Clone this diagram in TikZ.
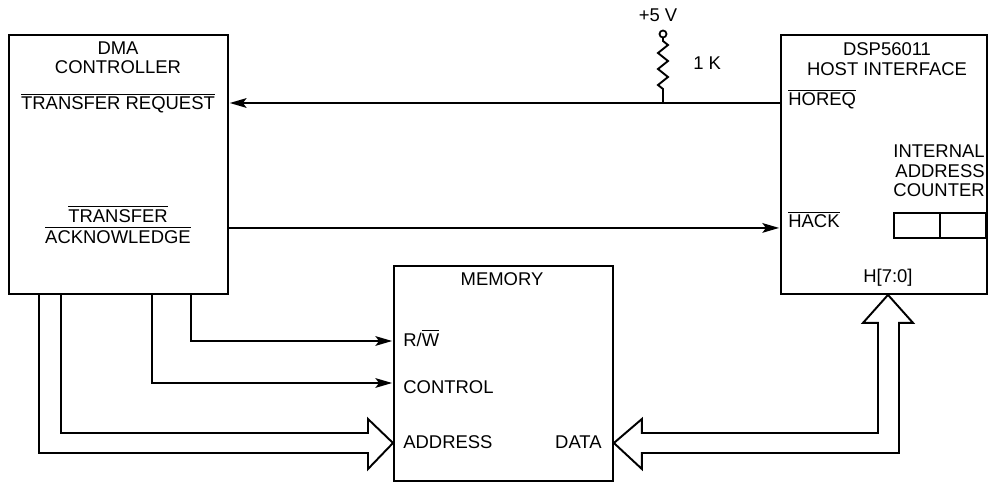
\documentclass[tikz,border=0pt]{standalone}
\usepackage{fontspec}
\setmainfont{Liberation Sans}
\usetikzlibrary{arrows.meta, positioning, calc}

\newcommand\ovl[1]{$\overline{\hbox{#1}}$}

\begin{document}
\begin{tikzpicture}[
    x=0.02cm, y=-0.02cm,
    block/.style={rectangle, draw, line width=1.1pt, inner sep=0pt, anchor=north west},
    lbl/.style={inner sep=0pt, font=\fontsize{10.5}{11}\selectfont, align=center},
    sig/.style={line width=1.1pt, -{Stealth[length=9.5pt,width=5.5pt,inset=2pt]}, shorten >=0.5pt},
    bus/.style={line width=1.1pt, line join=miter}
]
\useasboundingbox (0,0) rectangle (988,483);

% Blocks
\node (dma) [block, minimum width=4.38cm, minimum height=5.18cm] at (8,34) {};
\node (dsp) [block, minimum width=4.12cm, minimum height=5.18cm] at (780,34) {};
\node (mem) [block, minimum width=4.38cm, minimum height=4.3cm] at (393,265) {};
\node (cnt) [block, minimum width=1.84cm, minimum height=0.5cm] at (893,212) {};
\draw [line width=1.1pt] (cnt.north) -- (cnt.south);

% Labels
\node (dmaname) [lbl] at (118,58) {DMA\\CONTROLLER};
\node (treq) [lbl, anchor=base] at (118,110) {\ovl{TRANSFER REQUEST}};
\node (tack1) [lbl, anchor=base] at (118,222) {\ovl{TRANSFER}};
\node (tack2) [lbl, anchor=base] at (118,243) {\ovl{ACKNOWLEDGE}};
\node (dspname) [lbl] at (887,59) {DSP56011\\HOST INTERFACE};
\node (horeq) [lbl, anchor=base west] at (788,106) {\ovl{HOREQ}};
\node (hack) [lbl, anchor=base west] at (788,228) {\ovl{HACK}};
\node (cntname) [lbl, anchor=east, align=right] at (985,171) {INTERNAL\\ADDRESS\\COUNTER};
\node (hbus) [lbl, anchor=base] at (888,282) {H[7:0]};
\node (memname) [lbl, anchor=base] at (502,285) {MEMORY};
\node (rw) [lbl, anchor=base west] at (403,346) {R/\ovl{W}};
\node (ctl) [lbl, anchor=base west] at (403,393) {CONTROL};
\node (adrlbl) [lbl, anchor=base west] at (403,448) {ADDRESS};
\node (datlbl) [lbl, anchor=base east] at (602,448) {DATA};
\node (vlbl) [lbl, anchor=base] at (658,22) {+5 V};
\node (rlbl) [lbl, anchor=base west] at (693,70) {1 K};

% Pull-up
\coordinate (vcc) at (663,34);
\coordinate (tap) at (663,103);
\draw [line width=1pt] (vcc) circle (2pt);
\draw [line width=1.1pt, line join=miter] ($(vcc)+(0,3.5)$) -- (663,41) -- (668,45) -- (658,53) -- (668,61)
    -- (658,69) -- (668,77) -- (658,85) -- (663,89) -- (tap);

% Connections
\draw [sig] (tap -| dsp.west) -- (tap -| dma.east);
\draw [sig] ($(dma.east)+(0,63.5)$) coordinate (hk) -- (hk -| dsp.west);
\draw [sig] ($(dma.south west)+(183,0)$) |- ($(mem.north west)+(0,76)$);
\draw [sig] ($(dma.south west)+(144,0)$) |- ($(mem.north west)+(0,118)$);

% Buses
\coordinate (adr) at ($(mem.north west)+(0,178)$);
\coordinate (dat) at (mem.east |- adr);
\coordinate (hb) at ($(dsp.south west)+(108,0)$);
\draw [bus] ($(dma.south west)+(31,0)$) |- ($(adr)+(-25,10)$) -- ($(adr)+(-25,26)$) -- (adr)
    -- ($(adr)+(-25,-24)$) -- ($(adr)+(-25,-10)$) -| ($(dma.south west)+(53,0)$);
\draw [bus] ($(dat)+(28,-10)$) -| ($(hb)+(-10,28)$) -- ($(hb)+(-25,28)$) -- (hb) -- ($(hb)+(25,28)$)
    -- ($(hb)+(11,28)$) |- ($(dat)+(28,10)$) -- ($(dat)+(28,26)$) -- (dat) -- ($(dat)+(28,-24)$) -- cycle;

\end{tikzpicture}
\end{document}
